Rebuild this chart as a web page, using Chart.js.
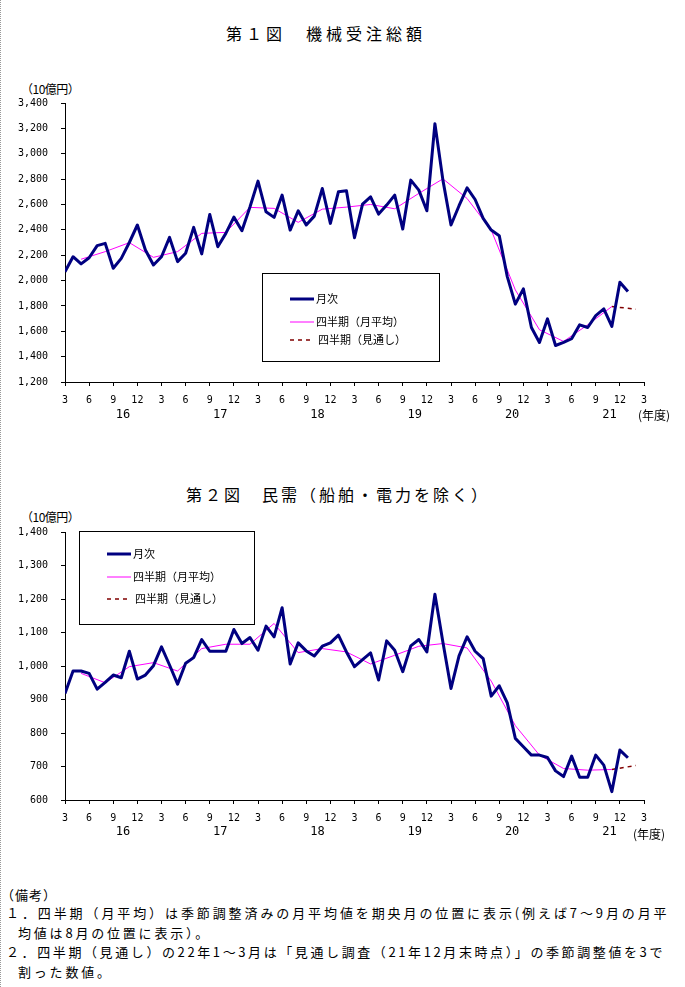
<!DOCTYPE html>
<html lang="ja">
<head>
<meta charset="utf-8">
<script src="https://cdn.jsdelivr.net/npm/chart.js@4.4.0/dist/chart.umd.min.js"></script>
<style>
  body { margin: 0; background: #fff; font-family: "Noto Sans CJK JP", sans-serif; }
  #page { position: relative; width: 685px; height: 987px; overflow: hidden; border-left: 1px dotted #999; box-sizing: border-box; }
  .txt { position: absolute; white-space: nowrap; line-height: 1; color: #000; }
  .title { font-size: 16px; }
  .unit { font-size: 12px; }
  .note { font-size: 13px; letter-spacing: 2.8px; }
  .wrap { position: absolute; left: -1px; width: 685px; }
</style>
</head>
<body>
<div id="page">
  <div class="txt title" style="left:225px; top:25px; letter-spacing:4px;">第１図　機械受注総額</div>
  <div class="txt unit" style="left:20px; top:83px; letter-spacing:-0.5px;">（10億円）</div>
  <div class="wrap" style="top:60px; height:380px;"><canvas id="chart1" width="685" height="380"></canvas></div>
  <div class="txt unit" style="left:637px; top:409px;">(年度)</div>

  <div class="txt title" style="left:185px; top:486px; letter-spacing:3px;">第２図　民需（船舶・電力を除く）</div>
  <div class="txt unit" style="left:20px; top:511px; letter-spacing:-0.5px;">（10億円）</div>
  <div class="wrap" style="top:500px; height:360px;"><canvas id="chart2" width="685" height="360"></canvas></div>
  <div class="txt unit" style="left:632px; top:828px;">(年度)</div>

  <div class="txt note" style="left:0px; top:888px; letter-spacing:1px;">（備考）</div>
  <div class="txt note" style="left:5px; top:906px; letter-spacing:2.9px;">１．四半期（月平均）は季節調整済みの月平均値を期央月の位置に表示(例えば7～9月の月平</div>
  <div class="txt note" style="left:17px; top:926px;">均値は8月の位置に表示）。</div>
  <div class="txt note" style="left:5px; top:945px; letter-spacing:2.6px;">２．四半期（見通し）の22年1～3月は「見通し調査（21年12月末時点）」の季節調整値を3で</div>
  <div class="txt note" style="left:17px; top:965px;">割った数値。</div>
</div>

<script>
// month index 0 = 3月(2016), one value per month
var monthTicks = ['3', '6', '9', '12'];
var fiscalYears = ['16', '17', '18', '19', '20', '21'];
var yearLabelPos = [7.2, 19.3, 31.4, 43.5, 55.6, 67.7];

// 第1図 機械受注総額 (10億円)
var total_monthly = [
  2070, 2188, 2131, 2180, 2275, 2293, 2097, 2175, 2300, 2438, 2241, 2123,
  2188, 2340, 2149, 2215, 2419, 2210, 2521, 2267, 2372, 2500, 2393, 2580,
  2784, 2542, 2498, 2674, 2398, 2550, 2438, 2508, 2726, 2451, 2700, 2708,
  2338, 2603, 2660, 2524, 2595, 2674, 2406, 2792, 2713, 2550, 3237, 2790,
  2438, 2590, 2731, 2639, 2490, 2398, 2354, 2031, 1814, 1934, 1630, 1512,
  1698, 1488, 1512, 1541, 1651, 1630, 1724, 1777, 1638, 1987, 1913
];
var total_quarterly = [
  2168, 2228, 2299, 2183, 2228, 2372, 2380, 2577, 2569, 2459, 2563, 2579,
  2600, 2566, 2687, 2802, 2647, 2398, 1926, 1612, 1520, 1651, 1795
];
var total_forecast = [1795, 1774];

// 第2図 民需（船舶・電力を除く） (10億円)
var core_monthly = [
  918, 985, 985, 978, 931, 951, 973, 965, 1044, 961, 973, 1001,
  1057, 1003, 946, 1008, 1025, 1079, 1044, 1044, 1044, 1109, 1067, 1085,
  1047, 1119, 1087, 1174, 1006, 1069, 1045, 1030, 1059, 1069, 1092, 1042,
  998, 1019, 1039, 958, 1075, 1047, 983, 1060, 1079, 1042, 1214, 1070,
  933, 1030, 1087, 1044, 1022, 910, 941, 890, 784, 759, 734, 734,
  727, 687, 670, 731, 668, 668, 734, 704, 625, 749, 726
];
var core_quarterly = [
  978, 950, 998, 1010, 985, 1052, 1065, 1065, 1127, 1040, 1052, 1042,
  1006, 1032, 1059, 1067, 1054, 955, 822, 734, 694, 689, 691
];
var core_forecast = [691, 703];

var seriesNames = ['月次', '四半期（月平均）', '四半期（見通し）'];

function monthly(arr) { return arr.map(function(v, i) { return { x: i, y: v }; }); }
function quarterly(arr) { return arr.map(function(v, k) { return { x: 2 + 3 * k, y: v }; }); }
function forecast(arr) { return [{ x: 68, y: arr[0] }, { x: 71, y: arr[1] }]; }

// year labels under the month ticks + the boxed legend
var extras = {
  id: 'extras',
  afterDraw: function(chart, args, opts) {
    var ctx = chart.ctx;
    var xs = chart.scales.x;
    ctx.save();
    ctx.fillStyle = '#000';
    ctx.font = '12px "DejaVu Sans Mono"';
    ctx.textAlign = 'center';
    ctx.textBaseline = 'middle';
    fiscalYears.forEach(function(y, i) {
      ctx.fillText(y, xs.getPixelForValue(yearLabelPos[i]), chart.chartArea.bottom + opts.yearOffset);
    });

    var b = opts.box;
    ctx.strokeStyle = '#000';
    ctx.lineWidth = 1;
    ctx.strokeRect(b.x + 0.5, b.y + 0.5, b.w, b.h);
    ctx.font = '11px "Noto Sans CJK JP"';
    ctx.textAlign = 'left';
    chart.data.datasets.forEach(function(ds, i) {
      var ry = opts.rows[i];
      ctx.beginPath();
      ctx.strokeStyle = ds.borderColor;
      ctx.lineWidth = ds.borderWidth;
      ctx.setLineDash(ds.borderDash || []);
      ctx.moveTo(opts.lineX, ry);
      ctx.lineTo(opts.lineX + (i === 2 ? opts.lineLen - 4 : opts.lineLen), ry);
      ctx.stroke();
      ctx.setLineDash([]);
      ctx.fillStyle = '#000';
      ctx.fillText(ds.label, opts.textX + (i === 2 ? 2 : 0), ry);
    });
    ctx.restore();
  }
};

function makeChart(id, m, q, f, yMin, yMax, yStep, xAxisH, padTop, extraOpts) {
  var ctx = document.getElementById(id).getContext('2d');
  return new Chart(ctx, {
    type: 'line',
    data: {
      datasets: [
        { label: seriesNames[0], data: monthly(m), borderColor: '#000080', borderWidth: 3, borderJoinStyle: 'round', pointRadius: 0, tension: 0 },
        { label: seriesNames[1], data: quarterly(q), borderColor: '#FF00FF', borderWidth: 1, pointRadius: 0, tension: 0 },
        { label: seriesNames[2], data: forecast(f), borderColor: '#800000', borderWidth: 1.5, borderDash: [4, 4], pointRadius: 0, tension: 0 }
      ]
    },
    options: {
      responsive: false,
      animation: false,
      layout: { padding: { top: padTop, right: 41, left: 0, bottom: 0 } },
      plugins: { legend: { display: false }, tooltip: { enabled: false }, extras: extraOpts },
      scales: {
        x: {
          type: 'linear', min: 0, max: 72,
          border: { color: '#000', width: 1 },
          grid: { drawOnChartArea: false, tickLength: 4, color: '#000' },
          ticks: {
            stepSize: 3, autoSkip: false, maxRotation: 0, padding: 8, color: '#000',
            font: { family: 'DejaVu Sans Mono', size: 10 },
            callback: function(v) { return monthTicks[(v / 3) % 4]; }
          },
          afterFit: function(s) { s.height = xAxisH; }
        },
        y: {
          min: yMin, max: yMax,
          border: { color: '#000', width: 1 },
          grid: { drawOnChartArea: false, tickLength: 4, color: '#000' },
          ticks: {
            stepSize: yStep, padding: 13, color: '#000',
            font: { family: 'DejaVu Sans Mono', size: 10 },
            callback: function(v) { return v.toLocaleString('en-US'); }
          },
          afterFit: function(s) { s.width = 65; }
        }
      }
    },
    plugins: [extras]
  });
}

makeChart('chart1', total_monthly, total_quarterly, total_forecast, 1200, 3400, 200, 58, 43, {
  yearOffset: 33,
  box: { x: 262, y: 213, w: 177, h: 88 },
  rows: [239, 262, 280],
  lineX: 290, lineLen: 24, textX: 316
});

makeChart('chart2', core_monthly, core_quarterly, core_forecast, 600, 1400, 100, 60, 32, {
  yearOffset: 32,
  box: { x: 79, y: 31, w: 175, h: 93 },
  rows: [54, 77, 99],
  lineX: 107, lineLen: 24, textX: 133
});
</script>
</body>
</html>
